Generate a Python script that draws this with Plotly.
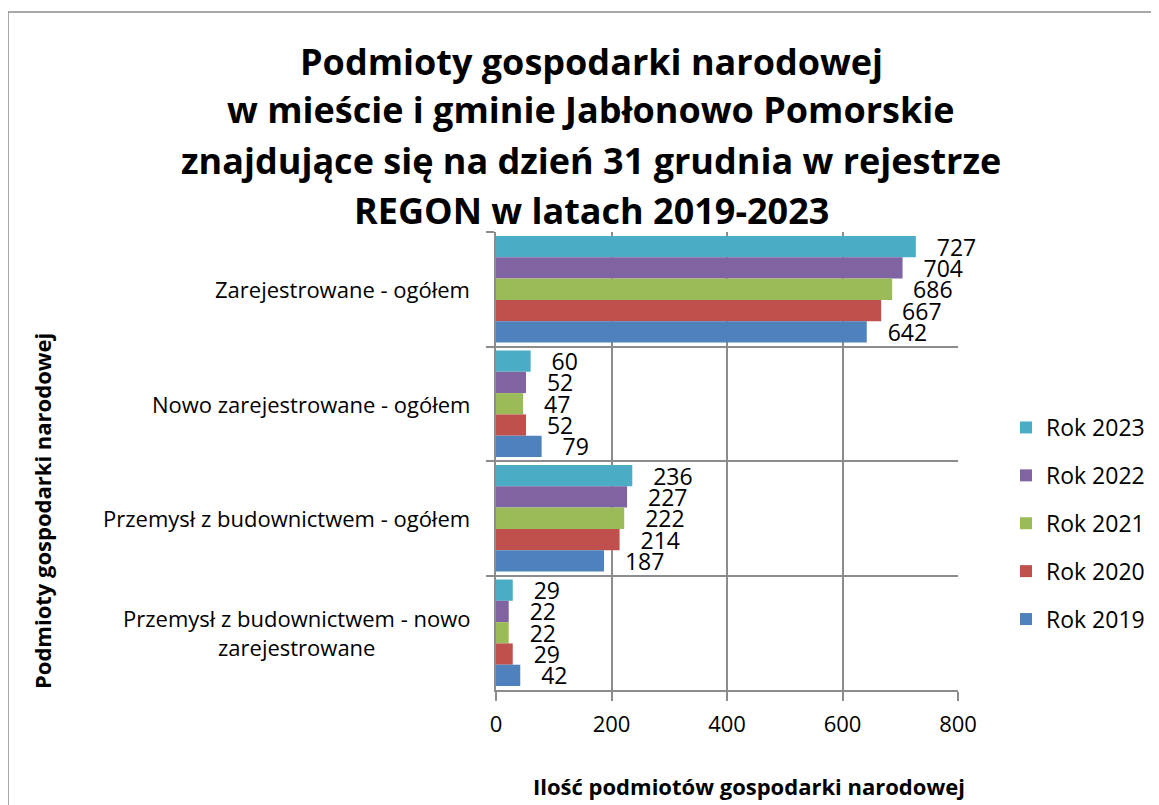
import plotly.graph_objects as go

categories = [
    "Zarejestrowane - ogółem",
    "Nowo zarejestrowane - ogółem",
    "Przemysł z budownictwem - ogółem",
    "Przemysł z budownictwem - nowo<br>zarejestrowane",
]
series_names = ["Rok 2023", "Rok 2022", "Rok 2021", "Rok 2020", "Rok 2019"]
values_2023 = [727, 60, 236, 29]
values_2022 = [704, 52, 227, 22]
values_2021 = [686, 47, 222, 22]
values_2020 = [667, 52, 214, 29]
values_2019 = [642, 79, 187, 42]
colors = ["#4BACC6", "#8064A2", "#9BBB59", "#C0504D", "#4F81BD"]

title_lines = [
    "Podmioty gospodarki narodowej",
    "w mieście i gminie Jabłonowo Pomorskie",
    "znajdujące się na dzień 31 grudnia w rejestrze",
    "REGON w latach 2019-2023",
]
x_title = "Ilość podmiotów gospodarki narodowej"
y_title = "Podmioty gospodarki narodowej"

FONT = "Open Sans"
OFF = 8  # page body margin
W, H = 1159 - OFF, 805 - OFF
L, T = 496 - OFF, 232 - OFF
R = W - (958 - OFF)
B = H - (690 - OFF)
pw, ph = W - L - R, H - T - B

fig = go.Figure()
all_vals = [values_2023, values_2022, values_2021, values_2020, values_2019]
for name, vals, col in zip(series_names, all_vals, colors):
    fig.add_trace(go.Bar(
        y=categories, x=vals, orientation="h", name=name,
        marker=dict(color=col, line=dict(width=0)),
        text=["\u00a0\u00a0\u00a0" + str(v) for v in vals],
        textposition="outside", cliponaxis=False, constraintext="none",
        textfont=dict(family=FONT, size=23, color="black"),
        legendgroup=name,
    ))

def px_to_paper_x(px):
    return (px - OFF - L) / pw

def px_to_paper_y(py):
    return (H - B - (py - OFF)) / ph

annotations = []
title_y = [62, 110, 160, 210]
for line, yy in zip(title_lines, title_y):
    annotations.append(dict(
        text="<b>" + line + "</b>", xref="paper", yref="paper",
        x=px_to_paper_x(591), y=px_to_paper_y(yy), xanchor="center", yanchor="middle",
        showarrow=False, font=dict(family=FONT, size=36, color="black"),
    ))
for c in categories:
    annotations.append(dict(
        text=c, xref="paper", yref="y", x=0, y=c, xanchor="right", yanchor="middle",
        xshift=-24, align="center", showarrow=False,
        font=dict(family=FONT, size=22, color="black"),
    ))
annotations.append(dict(
    text="<b>" + x_title + "</b>", xref="paper", yref="paper",
    x=px_to_paper_x(749), y=px_to_paper_y(786), xanchor="center", yanchor="middle",
    showarrow=False, font=dict(family=FONT, size=22, color="black"),
))
annotations.append(dict(
    text="<b>" + y_title + "</b>", xref="paper", yref="paper", textangle=-90,
    x=px_to_paper_x(42), y=px_to_paper_y(511), xanchor="center", yanchor="middle",
    showarrow=False, font=dict(family=FONT, size=22, color="black"),
))

fig.update_layout(
    width=W, height=H,
    margin=dict(l=L, r=R, t=T, b=B, autoexpand=False),
    paper_bgcolor="white", plot_bgcolor="white",
    barmode="group", bargap=0.07, bargroupgap=0,
    showlegend=True,
    legend=dict(x=px_to_paper_x(1006), y=px_to_paper_y(406), xanchor="left", yanchor="top",
                font=dict(family=FONT, size=23, color="black"), tracegroupgap=15,
                itemwidth=30, bgcolor="rgba(0,0,0,0)"),
    annotations=annotations,
    shapes=[dict(type="rect", xref="paper", yref="paper",
                 x0=px_to_paper_x(8), x1=px_to_paper_x(1300),
                 y0=px_to_paper_y(900), y1=px_to_paper_y(12),
                 line=dict(color="#8C8C8C", width=1.5), fillcolor="rgba(0,0,0,0)", layer="below")],
    font=dict(family=FONT),
)
fig.update_xaxes(range=[0, 800], dtick=200, showgrid=True, gridcolor="#8C8C8C", gridwidth=1.5,
                 showline=True, linecolor="#8C8C8C", linewidth=1.5,
                 ticks="outside", ticklen=9, tickcolor="#8C8C8C", tickwidth=1.5,
                 tickfont=dict(family=FONT, size=22, color="black"), zeroline=False,
                 ticklabelstandoff=5)
fig.update_yaxes(type="category", autorange="reversed", tickson="boundaries",
                 showgrid=True, gridcolor="#8C8C8C", gridwidth=1.5,
                 showline=True, linecolor="#8C8C8C", linewidth=1.5,
                 ticks="outside", ticklen=8, tickcolor="#8C8C8C", tickwidth=1.5,
                 showticklabels=False)

fig.write_html("out.html")
